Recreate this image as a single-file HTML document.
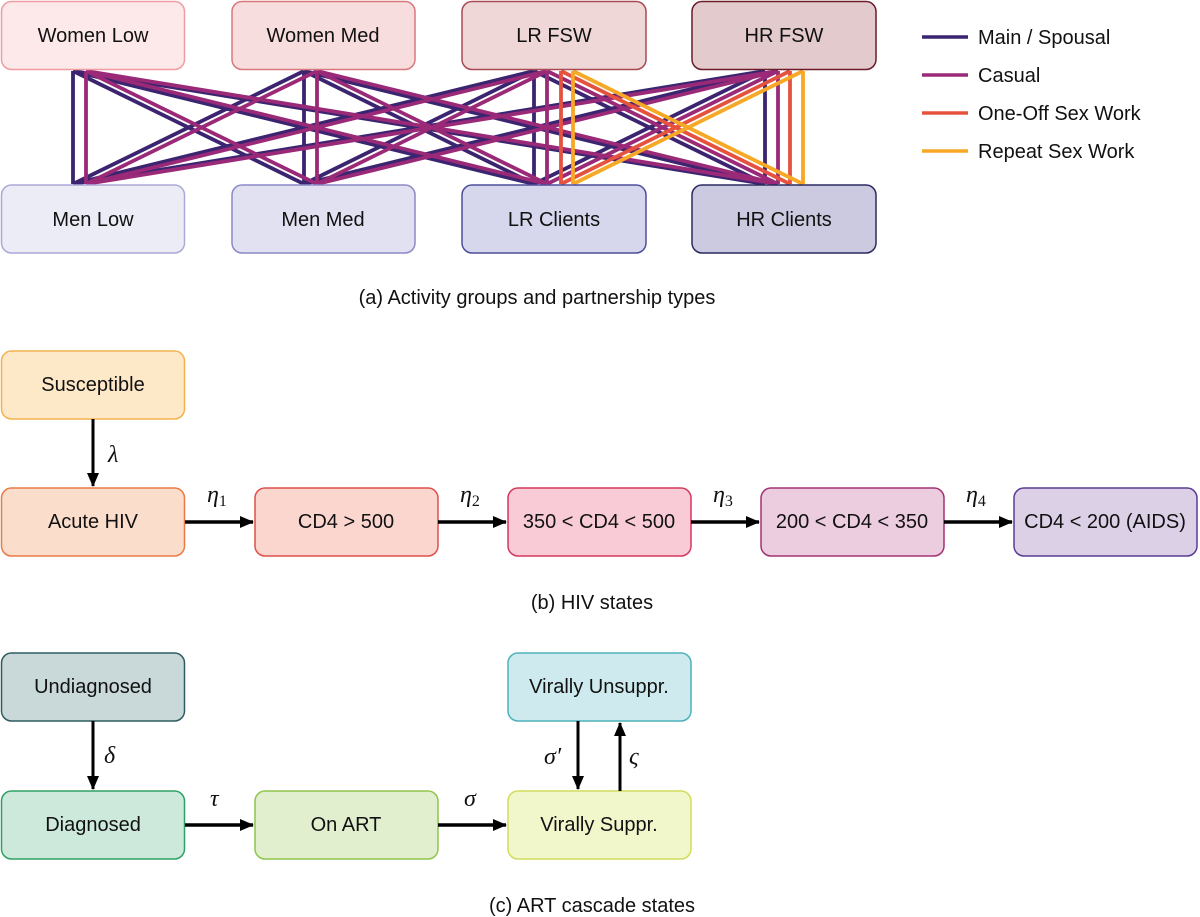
<!DOCTYPE html>
<html><head><meta charset="utf-8"><style>
html,body{margin:0;padding:0;background:#fff;}
svg{display:block;}
text{font-family:"Liberation Sans",sans-serif;font-size:20px;fill:#111;}
.c{text-anchor:middle;dominant-baseline:central;}
.g{font-family:"Liberation Serif",serif;font-style:italic;font-size:24px;}
</style></head><body>
<svg width="1200" height="917" viewBox="0 0 1200 917" xmlns="http://www.w3.org/2000/svg">
<defs>
<marker id="ar2" markerWidth="14" markerHeight="12" refX="13" refY="6" orient="auto" markerUnits="userSpaceOnUse"><path d="M0,0 L14,6 L0,12 z" fill="#000"/></marker>
</defs>
<g stroke="#3b2470" stroke-width="3.8" fill="none">
<line x1="73" y1="71" x2="73" y2="184"/><line x1="73" y1="71" x2="304" y2="184"/><line x1="73" y1="71" x2="534" y2="184"/><line x1="73" y1="71" x2="765" y2="184"/>
<line x1="304" y1="71" x2="73" y2="184"/><line x1="304" y1="71" x2="304" y2="184"/><line x1="304" y1="71" x2="534" y2="184"/><line x1="304" y1="71" x2="765" y2="184"/>
<line x1="534" y1="71" x2="73" y2="184"/><line x1="534" y1="71" x2="304" y2="184"/><line x1="534" y1="71" x2="534" y2="184"/><line x1="534" y1="71" x2="765" y2="184"/>
<line x1="765" y1="71" x2="73" y2="184"/><line x1="765" y1="71" x2="304" y2="184"/><line x1="765" y1="71" x2="534" y2="184"/><line x1="765" y1="71" x2="765" y2="184"/>
</g>
<g stroke="#9a2a78" stroke-width="3.8" fill="none">
<line x1="86" y1="71" x2="86" y2="184"/><line x1="86" y1="71" x2="317" y2="184"/><line x1="86" y1="71" x2="547" y2="184"/><line x1="86" y1="71" x2="778" y2="184"/>
<line x1="317" y1="71" x2="86" y2="184"/><line x1="317" y1="71" x2="317" y2="184"/><line x1="317" y1="71" x2="547" y2="184"/><line x1="317" y1="71" x2="778" y2="184"/>
<line x1="547" y1="71" x2="86" y2="184"/><line x1="547" y1="71" x2="317" y2="184"/><line x1="547" y1="71" x2="547" y2="184"/><line x1="547" y1="71" x2="778" y2="184"/>
<line x1="778" y1="71" x2="86" y2="184"/><line x1="778" y1="71" x2="317" y2="184"/><line x1="778" y1="71" x2="547" y2="184"/><line x1="778" y1="71" x2="778" y2="184"/>
</g>
<g stroke="#e5533f" stroke-width="3.8" fill="none">
<line x1="561" y1="71" x2="561" y2="184"/><line x1="561" y1="71" x2="790" y2="184"/>
<line x1="790" y1="71" x2="561" y2="184"/><line x1="790" y1="71" x2="790" y2="184"/>
</g>
<g stroke="#f7a825" stroke-width="3.8" fill="none">
<line x1="573" y1="71" x2="573" y2="184"/><line x1="573" y1="71" x2="803" y2="184"/>
<line x1="803" y1="71" x2="573" y2="184"/><line x1="803" y1="71" x2="803" y2="184"/>
</g>
<rect x="1.5" y="1.5" width="183" height="68" rx="10" fill="#fde9ea" stroke="#ef9ca2" stroke-width="1.5"/>
<rect x="232" y="1.5" width="183" height="68" rx="10" fill="#f7dddd" stroke="#d9787c" stroke-width="1.5"/>
<rect x="462" y="1.5" width="184" height="68" rx="10" fill="#efd6d7" stroke="#a84a52" stroke-width="1.5"/>
<rect x="692" y="1.5" width="184" height="68" rx="10" fill="#e3cacc" stroke="#6a1c28" stroke-width="1.5"/>
<text class="c" x="93" y="36">Women Low</text>
<text class="c" x="323" y="36">Women Med</text>
<text class="c" x="554" y="36">LR FSW</text>
<text class="c" x="784" y="36">HR FSW</text>
<rect x="1.5" y="185" width="183" height="68" rx="10" fill="#ececf7" stroke="#aaa9d8" stroke-width="1.5"/>
<rect x="232" y="185" width="183" height="68" rx="10" fill="#e2e1f2" stroke="#8b89c5" stroke-width="1.5"/>
<rect x="462" y="185" width="184" height="68" rx="10" fill="#d6d6ec" stroke="#4f4e9c" stroke-width="1.5"/>
<rect x="692" y="185" width="184" height="68" rx="10" fill="#cbcae0" stroke="#2a2a60" stroke-width="1.5"/>
<text class="c" x="93" y="220">Men Low</text>
<text class="c" x="323" y="220">Men Med</text>
<text class="c" x="554" y="220">LR Clients</text>
<text class="c" x="784" y="220">HR Clients</text>
<line x1="922" y1="37" x2="968" y2="37" stroke="#3b2470" stroke-width="3.5"/>
<line x1="922" y1="75" x2="968" y2="75" stroke="#9a2a78" stroke-width="3.5"/>
<line x1="922" y1="113" x2="968" y2="113" stroke="#e5533f" stroke-width="3.5"/>
<line x1="922" y1="151" x2="968" y2="151" stroke="#f7a825" stroke-width="3.5"/>
<text x="978" y="44">Main / Spousal</text>
<text x="978" y="82">Casual</text>
<text x="978" y="120">One-Off Sex Work</text>
<text x="978" y="158">Repeat Sex Work</text>
<text class="c" x="537" y="298">(a) Activity groups and partnership types</text>
<rect x="1.5" y="351" width="183" height="68" rx="10" fill="#fde8c8" stroke="#f4b24f" stroke-width="1.5"/>
<text class="c" x="93" y="385">Susceptible</text>
<line x1="93" y1="419" x2="93" y2="486" stroke="#000" stroke-width="3" marker-end="url(#ar2)"/>
<text class="g" x="108" y="462">λ</text>
<rect x="1.5" y="488" width="183" height="68" rx="10" fill="#fbddcc" stroke="#ea7a45" stroke-width="1.5"/>
<rect x="255" y="488" width="183" height="68" rx="10" fill="#fbd6cf" stroke="#de5049" stroke-width="1.5"/>
<rect x="508" y="488" width="183" height="68" rx="10" fill="#f9cbd7" stroke="#d4385c" stroke-width="1.5"/>
<rect x="761" y="488" width="183" height="68" rx="10" fill="#ecccdf" stroke="#a23274" stroke-width="1.5"/>
<rect x="1014" y="488" width="183" height="68" rx="10" fill="#dcd0e7" stroke="#5b3b90" stroke-width="1.5"/>
<text class="c" x="93" y="522">Acute HIV</text>
<text class="c" x="346" y="522">CD4 &gt; 500</text>
<text class="c" x="599" y="522">350 &lt; CD4 &lt; 500</text>
<text class="c" x="852" y="522">200 &lt; CD4 &lt; 350</text>
<text class="c" x="1105" y="522">CD4 &lt; 200 (AIDS)</text>
<g stroke="#000" stroke-width="3.5">
<line x1="185" y1="522" x2="253" y2="522" marker-end="url(#ar2)"/>
<line x1="438" y1="522" x2="506" y2="522" marker-end="url(#ar2)"/>
<line x1="691" y1="522" x2="759" y2="522" marker-end="url(#ar2)"/>
<line x1="944" y1="522" x2="1012" y2="522" marker-end="url(#ar2)"/>
</g>
<text class="g" x="207" y="502">η<tspan font-size="16" font-style="normal" dy="4">1</tspan></text>
<text class="g" x="460" y="502">η<tspan font-size="16" font-style="normal" dy="4">2</tspan></text>
<text class="g" x="713" y="502">η<tspan font-size="16" font-style="normal" dy="4">3</tspan></text>
<text class="g" x="966" y="502">η<tspan font-size="16" font-style="normal" dy="4">4</tspan></text>
<text class="c" x="592" y="603">(b) HIV states</text>
<rect x="1.5" y="653" width="183" height="68" rx="10" fill="#c9d9da" stroke="#2e5d60" stroke-width="1.5"/>
<text class="c" x="93" y="687">Undiagnosed</text>
<line x1="93" y1="721" x2="93" y2="789" stroke="#000" stroke-width="3" marker-end="url(#ar2)"/>
<text class="g" x="104" y="763">δ</text>
<rect x="1.5" y="791" width="183" height="68" rx="10" fill="#cde9dc" stroke="#2ea063" stroke-width="1.5"/>
<text class="c" x="93" y="825">Diagnosed</text>
<rect x="255" y="791" width="183" height="68" rx="10" fill="#e2efcf" stroke="#8fc64c" stroke-width="1.5"/>
<text class="c" x="346" y="825">On ART</text>
<rect x="508" y="791" width="183" height="68" rx="10" fill="#f2f6cb" stroke="#d2dc5c" stroke-width="1.5"/>
<text class="c" x="599" y="825">Virally Suppr.</text>
<rect x="508" y="653" width="183" height="68" rx="10" fill="#cfeaee" stroke="#4db2bc" stroke-width="1.5"/>
<text class="c" x="599" y="687">Virally Unsuppr.</text>
<g stroke="#000" stroke-width="3.5">
<line x1="185" y1="825" x2="253" y2="825" marker-end="url(#ar2)"/>
<line x1="438" y1="825" x2="506" y2="825" marker-end="url(#ar2)"/>
</g>
<text class="g" x="210" y="806">τ</text>
<text class="g" x="464" y="806">σ</text>
<g stroke="#000" stroke-width="3">
<line x1="578" y1="721" x2="578" y2="789" marker-end="url(#ar2)"/>
<line x1="620" y1="791" x2="620" y2="723" marker-end="url(#ar2)"/>
</g>
<text class="g" x="544" y="764">σ′</text>
<text class="g" x="629" y="764">ς</text>
<text class="c" x="592" y="906">(c) ART cascade states</text>
</svg>
</body></html>
